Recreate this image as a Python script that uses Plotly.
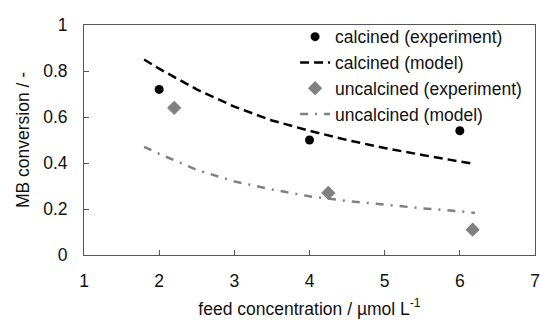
import plotly.graph_objects as go

# experimental data
calc_exp_x = [2.0, 4.0, 6.0]
calc_exp_y = [0.72, 0.50, 0.54]
uncalc_exp_x = [2.2, 4.25, 6.17]
uncalc_exp_y = [0.64, 0.27, 0.11]

# model curves
model_x = [1.8, 2.0, 2.5, 3.0, 3.5, 4.0, 4.5, 5.0, 5.5, 6.0, 6.2]
calc_model_y = [0.85, 0.81, 0.72, 0.645, 0.585, 0.54, 0.50, 0.465, 0.435, 0.405, 0.395]
uncalc_model_y = [0.47, 0.44, 0.37, 0.32, 0.285, 0.255, 0.235, 0.218, 0.203, 0.19, 0.183]

FONT = "Liberation Sans, Arial, sans-serif"
GRAY = "#808080"
TXT = "#111111"
FS = 17.5

fig = go.Figure()
fig.add_trace(go.Scatter(x=calc_exp_x, y=calc_exp_y, mode="markers",
                         name="calcined (experiment)",
                         marker=dict(symbol="circle", size=9, color="black")))
fig.add_trace(go.Scatter(x=model_x, y=calc_model_y, mode="lines",
                         name="calcined (model)",
                         line=dict(color="black", width=2.5, dash="9px,5px")))
fig.add_trace(go.Scatter(x=uncalc_exp_x, y=uncalc_exp_y, mode="markers",
                         name="uncalcined (experiment)",
                         marker=dict(symbol="diamond", size=11, color=GRAY)))
fig.add_trace(go.Scatter(x=model_x, y=uncalc_model_y, mode="lines",
                         name="uncalcined (model)",
                         line=dict(color=GRAY, width=2.5, dash="8px,7px,2px,7px")))

axis_common = dict(showgrid=False, zeroline=False, showline=True, linecolor="#555555",
                   linewidth=1, mirror=True, ticks="inside", ticklen=5, tickcolor="#555555",
                   automargin=False, ticklabeloverflow="allow",
                   tickfont=dict(family=FONT, size=FS, color=TXT))

fig.update_xaxes(range=[1, 7], dtick=1, tick0=1, ticklabelstandoff=10,
                 title=dict(text="feed concentration / µmol L<sup>-1</sup>",
                            font=dict(family=FONT, size=FS, color=TXT), standoff=12),
                 **axis_common)
fig.update_yaxes(range=[0, 1], dtick=0.2, tick0=0, tickformat="~g", ticklabelstandoff=12,
                 title=dict(text="MB conversion / -",
                            font=dict(family=FONT, size=FS, color=TXT), standoff=9),
                 **axis_common)

fig.update_layout(
    width=540, height=320,
    margin=dict(l=84, r=5, t=25, b=65),
    plot_bgcolor="white", paper_bgcolor="white",
    font=dict(family=FONT, size=FS, color=TXT),
    legend=dict(x=0.468, y=1.027, xanchor="left", yanchor="top",
                bgcolor="rgba(0,0,0,0)", font=dict(family=FONT, size=17.5, color=TXT),
                tracegroupgap=0, itemwidth=30),
    showlegend=True,
)

# remove the default page margin so the 540x320 figure fills the window without scrollbars
fig.write_html("out.html",
               config={"displayModeBar": False},
               post_script="document.body.style.margin='0px';"
                           "document.documentElement.style.overflow='hidden';"
                           "document.body.style.overflow='hidden';")
